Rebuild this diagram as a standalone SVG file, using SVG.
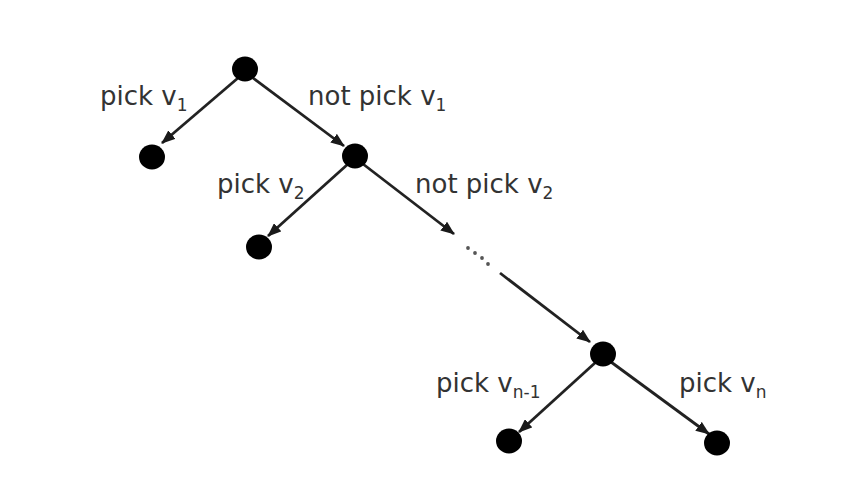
<svg xmlns="http://www.w3.org/2000/svg" width="866" height="496" viewBox="0 0 866 496">
<defs>
<marker id="ah" viewBox="0 0 14 11" refX="13" refY="5.5" markerWidth="14" markerHeight="11" markerUnits="userSpaceOnUse" orient="auto">
<path d="M0,0 L14,5.5 L0,11 z" fill="#1a1a1a"/>
</marker>
</defs>
<style>
.n{fill:#000}
.e{stroke:#222;stroke-width:2.8;fill:none;marker-end:url(#ah)}
.t{font-family:"DejaVu Sans",Verdana,sans-serif;font-size:26px;fill:#333}
.s{font-size:17px}
.d{fill:#555}
</style>
<rect width="866" height="496" fill="#fff"/>
<g id="connectors">
<line class="e" x1="238" y1="78" x2="162" y2="143"/>
<line class="e" x1="253" y1="78" x2="344" y2="146"/>
<line class="e" x1="348" y1="164" x2="268" y2="236"/>
<line class="e" x1="363" y1="164" x2="454" y2="234"/>
<line class="e" x1="500" y1="273" x2="590" y2="342"/>
<line class="e" x1="596" y1="362" x2="519" y2="432"/>
<line class="e" x1="611" y1="362" x2="709" y2="434"/>
<circle class="d" cx="468" cy="248" r="1.9"/>
<circle class="d" cx="475" cy="253" r="1.9"/>
<circle class="d" cx="482" cy="258" r="1.9"/>
<circle class="d" cx="488" cy="264" r="1.9"/>
</g>
<g id="root"><ellipse class="n" cx="245" cy="69" rx="13" ry="12.5"/></g>
<g id="pick1"><ellipse class="n" cx="152" cy="157" rx="13" ry="12.5"/></g>
<g id="notpick1"><ellipse class="n" cx="355" cy="156" rx="13" ry="12.5"/></g>
<g id="pick2"><ellipse class="n" cx="259" cy="247" rx="13" ry="12.5"/></g>
<g id="noden"><ellipse class="n" cx="603" cy="354" rx="13" ry="12.5"/></g>
<g id="pickn1"><ellipse class="n" cx="509" cy="441" rx="13" ry="12.5"/></g>
<g id="pickn"><ellipse class="n" cx="717" cy="443" rx="13" ry="12.5"/></g>
<g id="labels">
<text class="t" x="100" y="105">pick v<tspan class="s" dy="6">1</tspan></text>
<text class="t" x="308" y="105">not pick v<tspan class="s" dy="6">1</tspan></text>
<text class="t" x="217" y="193">pick v<tspan class="s" dy="6">2</tspan></text>
<text class="t" x="415" y="193">not pick v<tspan class="s" dy="6">2</tspan></text>
<text class="t" x="436" y="392">pick v<tspan class="s" dy="6">n-1</tspan></text>
<text class="t" x="679" y="392">pick v<tspan class="s" dy="6">n</tspan></text>
</g>
</svg>
